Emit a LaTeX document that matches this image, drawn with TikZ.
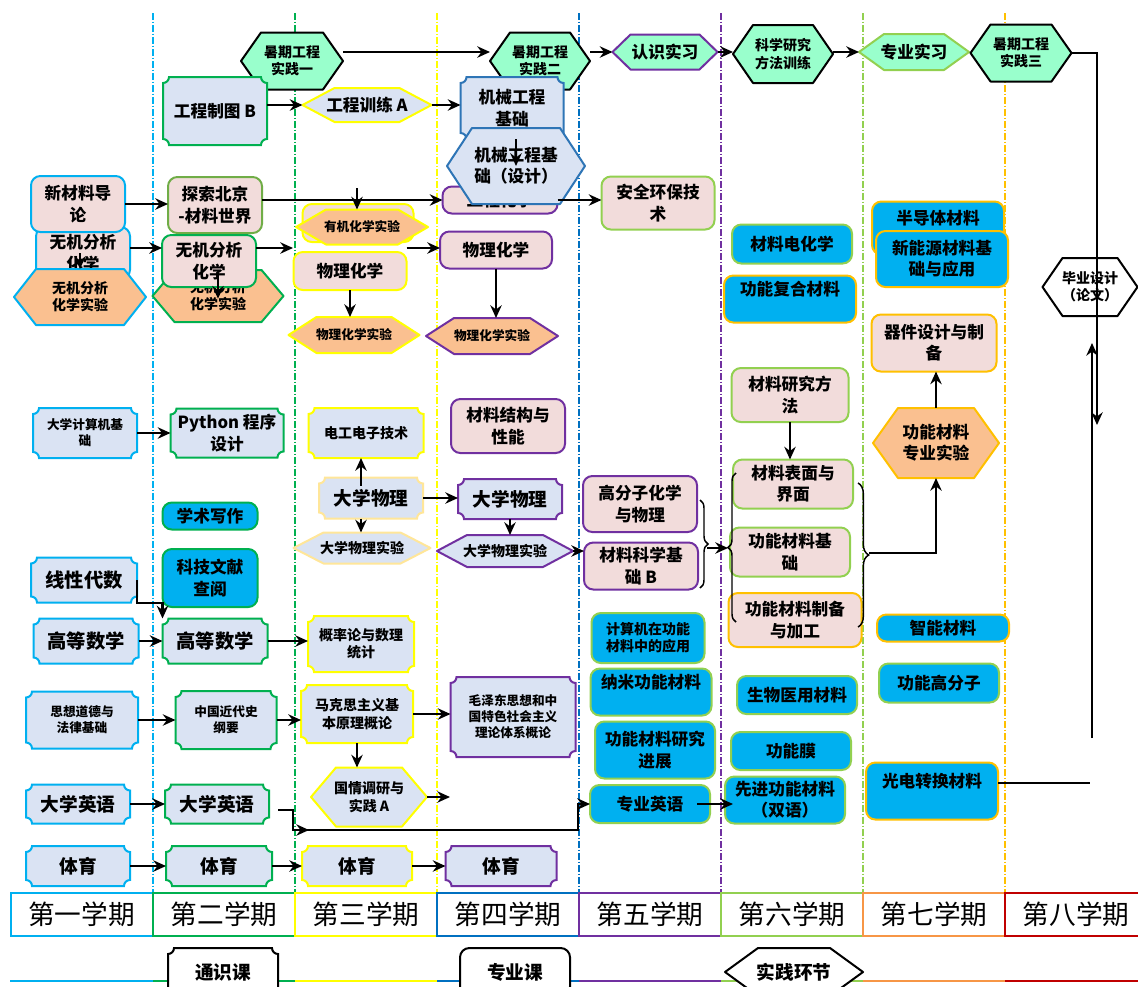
\documentclass[tikz,border=0pt]{standalone}
\usepackage{fontspec}
\setmainfont{Noto Sans CJK SC}
\usetikzlibrary{arrows.meta,decorations.pathreplacing}
\definecolor{cA}{HTML}{00B0F0}
\definecolor{cB}{HTML}{00B050}
\definecolor{cC}{HTML}{FFFF00}
\definecolor{cD}{HTML}{0070C0}
\definecolor{cE}{HTML}{7030A0}
\definecolor{cF}{HTML}{92D050}
\definecolor{cG}{HTML}{FFC000}
\definecolor{cH}{HTML}{F79646}
\definecolor{cI}{HTML}{C00000}
\definecolor{cMb}{HTML}{2E75B6}
\definecolor{cLo}{HTML}{FFE699}
\definecolor{cTan}{HTML}{70AD47}
\definecolor{fBlue}{HTML}{DAE3F3}
\definecolor{fPink}{HTML}{F2DCDB}
\definecolor{fOr}{HTML}{FAC090}
\definecolor{fMint}{HTML}{99FFCC}
\definecolor{fCy}{HTML}{00B0F0}
\newcommand\szA{\fontsize{9.5pt}{12pt}\selectfont}
\newcommand\szB{\fontsize{10.5pt}{13pt}\selectfont}
\newcommand\szC{\fontsize{12.5pt}{16pt}\selectfont}
\newcommand\szD{\fontsize{14pt}{16pt}\selectfont}
\newcommand\szE{\fontsize{14.5pt}{17pt}\selectfont}
\newcommand\szF{\fontsize{20pt}{23pt}\selectfont}
\tikzset{
 box/.style={inner sep=0pt, outer sep=0pt, align=center},
 pq/.style={line width=1.5pt, fill=fBlue},
 hx/.style={line width=1.5pt, line join=round},
 rr/.style={line width=1.5pt, rounded corners=7pt, fill=fPink},
 arr/.style={line width=1.6pt, -{Stealth[length=9.5pt,width=8.5pt]}},
 ln/.style={line width=1.6pt},
 colline/.style={dash pattern=on 5pt off 1.5pt on 1pt off 1.5pt, line width=1.1pt},
 sem/.style={draw, line width=1.5pt, minimum width=142*0.75pt, minimum height=43*0.75pt, inner sep=0pt, font=\szF},
 br/.style={decorate, decoration={brace, amplitude=#1}, line width=1.1pt},
}
% plaque: name, style, cx, cy, w, h, size, text
\newcommand\PQ[8]{%
 \path[pq,#2] ({#3-#5/2+6},{#4-#6/2}) -- ({#3+#5/2-6},{#4-#6/2}) arc[start angle=180,end angle=270,radius=4.5pt] -- ({#3+#5/2},{#4+#6/2-6}) arc[start angle=90,end angle=180,radius=4.5pt] -- ({#3-#5/2+6},{#4+#6/2}) arc[start angle=0,end angle=90,radius=4.5pt] -- ({#3-#5/2},{#4-#6/2+6}) arc[start angle=270,end angle=360,radius=4.5pt] -- cycle;
 \node[box,font=\bfseries#7,minimum width={#5*0.75pt},minimum height={#6*0.75pt}] (#1) at (#3,#4) {#8};}
% hexagon: name, style, cx, cy, w, h, inset, size, text
\newcommand\HX[9]{%
 \path[hx,#2] ({#3-#5/2},#4) -- ({#3-#5/2+#7},{#4-#6/2}) -- ({#3+#5/2-#7},{#4-#6/2}) -- ({#3+#5/2},#4) -- ({#3+#5/2-#7},{#4+#6/2}) -- ({#3-#5/2+#7},{#4+#6/2}) -- cycle;
 \node[box,font=\bfseries#8,minimum width={#5*0.75pt},minimum height={#6*0.75pt}] (#1) at (#3,#4) {#9};}
% rounded rectangle: name, style, cx, cy, w, h, size, text
\newcommand\RR[8]{%
 \node[box,rr,#2,font=\bfseries#7,minimum width={#5*0.75pt},minimum height={#6*0.75pt}] (#1) at (#3,#4) {#8};}
\begin{document}
\begin{tikzpicture}[x=0.75pt,y=-0.75pt]
\clip (0,0) rectangle (1138,986);
\fill[white] (0,0) rectangle (1138,986);
% column separators
\foreach \x/\c in {153/cA,295/cB,437/cC,579/cD,721/cE,863/cF,1005/cG}
  \draw[colline,\c] (\x,13) -- (\x,893);
% bottom coloured line
\foreach \a/\b/\c in {10/153/cA,153/295/cB,295/437/cC,437/579/cD,579/721/cE,721/863/cF,863/1005/cH,1005/1138/cI}
  \draw[line width=1.5pt,\c] (\a,981) -- (\b,981);
% semesters
\node[sem,draw=cA] (t1) at (81.5,914.5) {第一学期};
\node[sem,draw=cB] (t2) at (224,914.5) {第二学期};
\node[sem,draw=cC] (t3) at (366,914.5) {第三学期};
\node[sem,draw=cD] (t4) at (508,914.5) {第四学期};
\node[sem,draw=cE] (t5) at (650,914.5) {第五学期};
\node[sem,draw=cF] (t6) at (792,914.5) {第六学期};
\node[sem,draw=cH] (t7) at (934,914.5) {第七学期};
\node[sem,draw=cI] (t8) at (1076,914.5) {第八学期};
% legend
\PQ{lg1}{draw=black,fill=white}{223}{972}{110}{48}{\szD}{通识课}
\RR{lg2}{draw=black,fill=white}{515}{972}{110}{48}{\szD}{专业课}
\HX{lg3}{draw=black,fill=white}{794}{972}{138}{48}{33}{\szD}{实践环节}
% top row
\HX{s1}{draw=black,fill=fMint}{292}{61}{102}{57}{20}{\szB}{暑期工程\\实践一}
\HX{s2}{draw=black,fill=fMint}{540}{61}{100}{57}{20}{\szB}{暑期工程\\实践二}
\HX{rx}{draw=cE,fill=fMint}{665}{52}{105}{35}{18}{\szC}{认识实习}
\HX{ky}{draw=black,fill=fMint}{783}{54}{100}{58}{20}{\szB}{科学研究\\方法训练}
\HX{zs}{draw=cF,fill=fMint}{914}{52}{110}{36}{25}{\szC}{专业实习}
\HX{s3}{draw=black,fill=fMint}{1021}{53}{101}{57}{20}{\szB}{暑期工程\\实践三}
\HX{by}{draw=black,fill=white}{1090}{287}{95}{58}{20}{\szB}{毕业设计\\（论文）}
% column 1
\RR{wj1}{draw=cA}{83}{253}{94}{52}{\szC}{无机分析\\化学}
\RR{xcl}{draw=cA}{78}{204}{94}{56}{\szC}{新材料导\\论}
\HX{wjs1}{draw=cA,fill=fOr}{80}{297}{132}{56}{22}{\szB}{无机分析\\化学实验}
\PQ{jsj}{draw=cA}{85}{433}{104}{50}{\szA}{大学计算机基\\础}
\PQ{xd}{draw=cA}{84}{580}{106}{45}{\szE}{线性代数}
\PQ{gs1}{draw=cA}{86}{641}{105}{45}{\szE}{高等数学}
\PQ{sx}{draw=cA}{82}{720}{112}{57}{\szA}{思想道德与\\法律基础}
\PQ{yy1}{draw=cA}{78}{804}{104}{39}{\szD}{大学英语}
\PQ{ty1}{draw=cA}{78}{866}{104}{40}{\szD}{体育}
% column 2
\PQ{gt}{draw=cB}{215}{111}{104}{68}{\szC}{工程制图 B}
\RR{ts}{draw=cTan}{215}{205}{94}{56}{\szC}{探索北京\\-材料世界}
\HX{wjs2}{draw=cB,fill=fOr}{218}{296}{131}{52}{22}{\szB}{无机分析\\化学实验}
\RR{wj2}{draw=cB}{209}{261}{94}{52}{\szC}{无机分析\\化学}
\PQ{py}{draw=cB}{227}{433}{113}{49}{\szC}{Python 程序\\设计}
\RR{xs}{draw=cB,fill=fCy}{210}{516}{95}{27}{\szC}{学术写作}
\RR{kj}{draw=cB,fill=fCy}{210}{578}{95}{58}{\szC}{科技文献\\查阅}
\PQ{gs2}{draw=cB}{215}{641}{105}{45}{\szE}{高等数学}
\PQ{zg}{draw=cB}{226}{720}{101}{58}{\szA}{中国近代史\\纲要}
\PQ{yy2}{draw=cB}{217}{804}{104}{39}{\szD}{大学英语}
\PQ{ty2}{draw=cB}{219}{866}{106}{40}{\szD}{体育}
% column 3
\HX{gx}{draw=cC,fill=fBlue}{367}{105}{129}{34}{32}{\szC}{工程训练 A}
\RR{yj}{draw=cC}{358}{223}{111}{38}{\szC}{有机化学}
\HX{yjs}{draw=cC,fill=fOr}{362}{227}{132}{35}{30}{\szA}{有机化学实验}
\RR{wh3}{draw=cC}{350}{271}{113}{38}{\szC}{物理化学}
\HX{whs3}{draw=cC,fill=fOr}{354}{335}{131}{36}{28}{\szA}{物理化学实验}
\PQ{dg}{draw=cC}{366}{433}{115}{50}{\szB}{电工电子技术}
\PQ{dw3}{draw=cLo}{371}{498}{104}{41}{\szD}{大学物理}
\HX{dws3}{draw=cLo,fill=fBlue}{362}{548}{137}{31}{30}{\szB}{大学物理实验}
\PQ{gl}{draw=cC}{361}{644}{106}{56}{\szB}{概率论与数理\\统计}
\PQ{mk}{draw=cC}{357}{714}{112}{58}{\szB}{马克思主义基\\本原理概论}
\HX{gq}{draw=cC,fill=fBlue}{369}{797}{116}{59}{25}{\szB}{国情调研与\\实践 A}
\PQ{ty3}{draw=cC}{357}{866}{110}{40}{\szD}{体育}
% column 4
\PQ{jx}{draw=cMb}{512}{108}{103}{62}{\szC}{机械工程\\基础}
\RR{gc}{draw=cE}{500}{200}{115}{27}{\szC}{工程化学}
\HX{jxs}{draw=cMb,fill=fBlue}{516}{166}{138}{76}{25}{\szC}{机械工程基\\础（设计）}
\RR{wh4}{draw=cE}{496}{250}{112}{37}{\szC}{物理化学}
\HX{whs4}{draw=cE,fill=fOr}{492}{336}{132}{36}{28}{\szA}{物理化学实验}
\RR{jg}{draw=cE}{508}{426}{114}{54}{\szC}{材料结构与\\性能}
\PQ{dw4}{draw=cE}{510}{499}{104}{40}{\szD}{大学物理}
\HX{dws4}{draw=cE,fill=fBlue}{505}{551}{136}{32}{30}{\szB}{大学物理实验}
\PQ{mz}{draw=cE}{513}{717}{125}{80}{\szA}{毛泽东思想和中\\国特色社会主义\\理论体系概论}
\PQ{ty4}{draw=cE}{501}{866}{111}{40}{\szD}{体育}
% column 5
\RR{aq}{draw=cF}{658}{203}{113}{53}{\szC}{安全环保技\\术}
\RR{gf}{draw=cE}{640}{504}{114}{56}{\szC}{高分子化学\\与物理}
\RR{kx}{draw=cE}{641}{566}{114}{47}{\szC}{材料科学基\\础 B}
\RR{jy}{draw=cF,fill=fCy}{648}{638}{113}{50}{\szB}{计算机在功能\\材料中的应用}
\RR{nm}{draw=cF,fill=fCy}{651}{692}{121}{47}{\szC}{纳米功能材料\\~}
\RR{jz}{draw=cF,fill=fCy}{655}{750}{120}{57}{\szC}{功能材料研究\\进展}
\RR{zy}{draw=cF,fill=fCy}{650}{804}{120}{38}{\szC}{专业英语}
% column 6
\RR{dh}{draw=cF,fill=fCy}{792}{244}{120}{39}{\szC}{材料电化学}
\RR{fh}{draw=cG,fill=fCy}{790}{299}{132}{47}{\szC}{功能复合材料\\~}
\RR{ff}{draw=cF}{790}{395}{117}{54}{\szC}{材料研究方\\法}
\RR{bm}{draw=cF}{793}{484}{120}{49}{\szC}{材料表面与\\界面}
\RR{jc}{draw=cF}{790}{552}{120}{49}{\szC}{功能材料基\\础}
\RR{zb}{draw=cG}{795}{620}{133}{54}{\szC}{功能材料制备\\与加工}
\RR{sw}{draw=cF,fill=fCy}{797}{695}{120}{38}{\szC}{生物医用材料}
\RR{gnm}{draw=cF,fill=fCy}{791}{751}{120}{38}{\szC}{功能膜}
\RR{xj}{draw=cF,fill=fCy}{785}{800}{120}{47}{\szC}{先进功能材料\\（双语）}
% column 7
\RR{bd}{draw=cG,fill=fCy}{938}{228}{132}{53}{\szC}{半导体材料\\~}
\RR{xn}{draw=cG,fill=fCy}{942}{259}{132}{56}{\szC}{新能源材料基\\础与应用}
\RR{qj}{draw=cG}{934}{343}{125}{57}{\szC}{器件设计与制\\备}
\HX{zys}{draw=cG,fill=fOr}{936}{443}{126}{70}{25}{\szC}{功能材料\\专业实验}
\RR{zn}{draw=cG,fill=fCy}{943}{628}{132}{27}{\szC}{智能材料}
\RR{gfz}{draw=cF,fill=fCy}{939}{683}{120}{39}{\szC}{功能高分子}
\RR{gd}{draw=cG,fill=fCy}{932}{791}{132}{57}{\szC}{光电转换材料\\~}
% helper coordinates
\coordinate (r248) at (0,248);
\coordinate (c3a) at (357,188);
\coordinate (c3b) at (293,248);
\coordinate (c4a) at (450,797);
\coordinate (c3c) at (293,830);
\coordinate (c4b) at (578,830);
\coordinate (c8a) at (1097,425);
\coordinate (c8b) at (1092,738);
\coordinate (c8c) at (1092,343);
\coordinate (c8d) at (1090,783);
\coordinate (b1) at (707,548);
\coordinate (b2) at (728,548);
\coordinate (b3) at (869,553);
% top row arrows
\draw[arr] ([yshift=6.75pt]s1.east) -- ([yshift=6.75pt]s2.west);
\draw[arr] ([yshift=6.75pt]s2.east) -- (rx.west);
\draw[arr] (rx.east) -- (rx.east -| ky.west);
\draw[arr] (ky.east |- zs.west) -- (zs.west);
\draw[arr] (s3.east) -| (c8a);
\draw[arr] (c8b) -- (c8c);
\draw[ln] (gd.east |- c8d) -- (c8d);
% column links
\draw[arr] (gt.east |- gx.west) -- (gx.west);
\draw[arr] (gx.east) -- (gx.east -| jx.west);
\draw[arr] (jxs.center |- jx.south) -- (jxs.center);
\draw[arr] (xcl.east) -- (xcl.east -| ts.west);
\draw[arr] (ts.east |- gc.west) -- (gc.west);
\draw[arr] (c3a) -- (c3a |- yjs.north);
\draw[arr] (gc.east) -- (gc.east -| aq.west);
\draw[arr] (wj1.east |- r248) -- (wj2.west |- r248);
\draw[arr] (wj2.east |- r248) -- (c3b);
\draw[arr] (wh3.east |- r248) -- (wh4.west |- r248);
\draw[arr] (wjs1.center |- wj1.center) -- (wjs1.north);
\draw[arr] ([yshift=-9pt]wjs2.center |- wj2.center) -- ([yshift=-2pt]wjs2.center);
\draw[arr] (wh3.south) -- (wh3.south |- whs3.north);
\draw[arr] (wh4.south) -- (wh4.south |- whs4.north);
\draw[arr] (jsj.east) -- (py.west);
\draw[arr] (xd.east) -- ++(0,23) -| (gs2.north west);
\draw[arr] (gs1.east) -- (gs2.west);
\draw[arr] (gs2.east) -- (gs2.east -| gl.west);
\draw[arr] (sx.east) -- (sx.east -| zg.west);
\draw[arr] (zg.east) -- (zg.east -| mk.west);
\draw[arr] (mk.east) -- (mk.east -| mz.west);
\draw[arr] (mk.south) -- (mk.south |- gq.north);
\draw[arr] (gq.east) -- (c4a);
\draw[arr] (yy1.east) -- (yy2.west);
\draw[arr] ([xshift=6.75pt,yshift=-4.5pt]yy2.east) -| (c3c) -- (c4b) |- (zy.west);
\draw[arr] (c3c) -- ++(16,0);
\draw[arr] (ty1.east) -- (ty2.west);
\draw[arr] (ty2.east) -- (ty3.west);
\draw[arr] (ty3.east) -- (ty4.west);
\draw[arr] ([xshift=-7.5pt,yshift=-6pt]dw3.north) -- ([xshift=-7.5pt]dw3.north |- dg.south);
\draw[arr] ([xshift=-7.5pt]dw3.south) -- ([xshift=-7.5pt]dw3.south |- dws3.north);
\draw[arr] (dw3.east) -- (dw3.east -| dw4.west);
\draw[arr] (dw4.south) -- (dw4.south |- dws4.north);
\draw[arr] (dws4.east) -- (dws4.east -| kx.west);
\draw[arr] (ff.south) -- (ff.south |- bm.north);
\draw[arr] (zys.north) -- (zys.north |- qj.south);
\draw[arr] ([xshift=-9.75pt]zy.east) -- ([xshift=6pt]zy.east -| xj.west);
% braces
\draw[br=6pt] (700,500) -- (700,588);
\draw[arr] (b1) -- (b2);
\draw[br=6pt] (736,622) -- (736,473);
\draw[br=8pt] (858,483) -- (858,627);
\draw[arr] (b3) -| (zys.south);
\end{tikzpicture}
\end{document}
